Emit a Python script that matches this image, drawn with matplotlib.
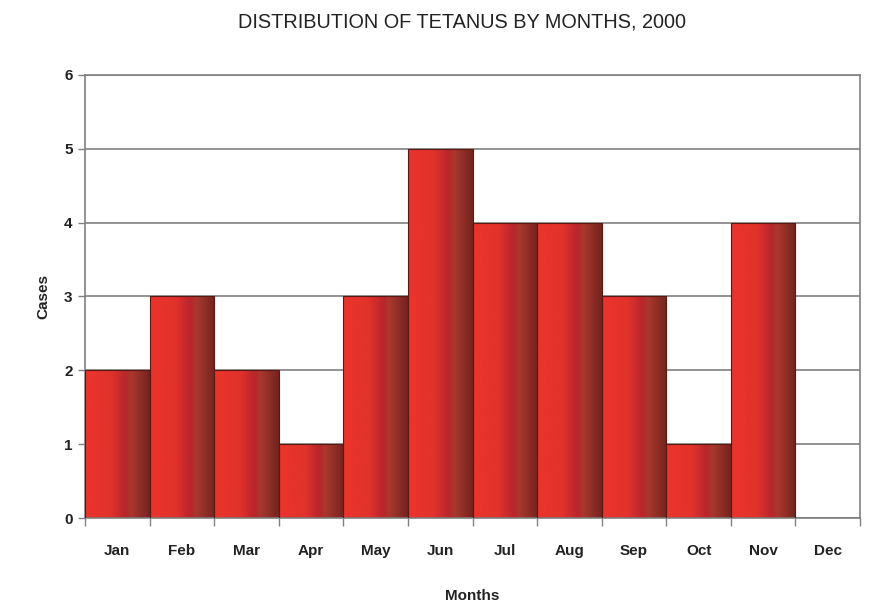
import numpy as np
import matplotlib
matplotlib.use('Agg')
import matplotlib.pyplot as plt
from matplotlib.colors import LinearSegmentedColormap

months = ['Jan', 'Feb', 'Mar', 'Apr', 'May', 'Jun', 'Jul', 'Aug', 'Sep', 'Oct', 'Nov', 'Dec']
cases = [2, 3, 2, 1, 3, 5, 4, 4, 3, 1, 4, 0]

plt.rcParams['font.family'] = ['Liberation Sans', 'DejaVu Sans']

fig = plt.figure(figsize=(8.74, 6.08), dpi=100)
ax = fig.add_axes([0.0973, 0.148, 0.8867, 0.729])

x = np.arange(len(months))
bars = ax.bar(x, cases, width=1.0, color='none', edgecolor='#5a1812', linewidth=0.8, zorder=3)

# horizontal shading inside each bar
grad = LinearSegmentedColormap.from_list('bar', [
    (0.0, (0.93, 0.20, 0.17)),
    (0.40, (0.88, 0.20, 0.17)),
    (0.62, (0.72, 0.15, 0.17)),
    (0.72, (0.66, 0.22, 0.18)),
    (1.0, (0.45, 0.14, 0.12)),
])
g = np.linspace(0, 1, 256).reshape(1, -1)
for b in bars:
    h = b.get_height()
    if h <= 0:
        continue
    x0 = b.get_x()
    im = ax.imshow(g, cmap=grad, aspect='auto', extent=[x0, x0 + b.get_width(), 0, h],
                   zorder=2, interpolation='bilinear')
    im.set_clip_path(b)

ax.set_xlim(-0.5, len(months) - 0.5)
ax.set_ylim(0, 6)
ax.set_yticks(range(0, 7))
ax.set_xticks(x)
ax.set_xticklabels(months)
ax.set_xticks(np.arange(-0.5, len(months)), minor=True)
ax.tick_params(axis='x', which='major', length=0, pad=19, labelsize=11)
ax.tick_params(axis='x', which='minor', length=6, color='#808080', width=1)
ax.tick_params(axis='y', length=5, color='#808080', width=1, labelsize=11, pad=4)
for lab in ax.get_xticklabels() + ax.get_yticklabels():
    lab.set_fontweight('bold')
    lab.set_color('#222222')

ax.grid(axis='y', color='#808080', linewidth=1.2, zorder=1)
for s in ax.spines.values():
    s.set_color('#808080')
    s.set_linewidth(1.2)

ax.set_xlabel('Months', fontsize=11, fontweight='bold', color='#222222', labelpad=22)
ax.set_ylabel('Cases', fontsize=11, fontweight='bold', color='#222222', labelpad=10)
fig.text(0.529, 0.964, 'DISTRIBUTION OF TETANUS BY MONTHS, 2000', ha='center', va='center',
         fontsize=14.3, color='#222222')

fig.savefig('out.png', dpi=100)
